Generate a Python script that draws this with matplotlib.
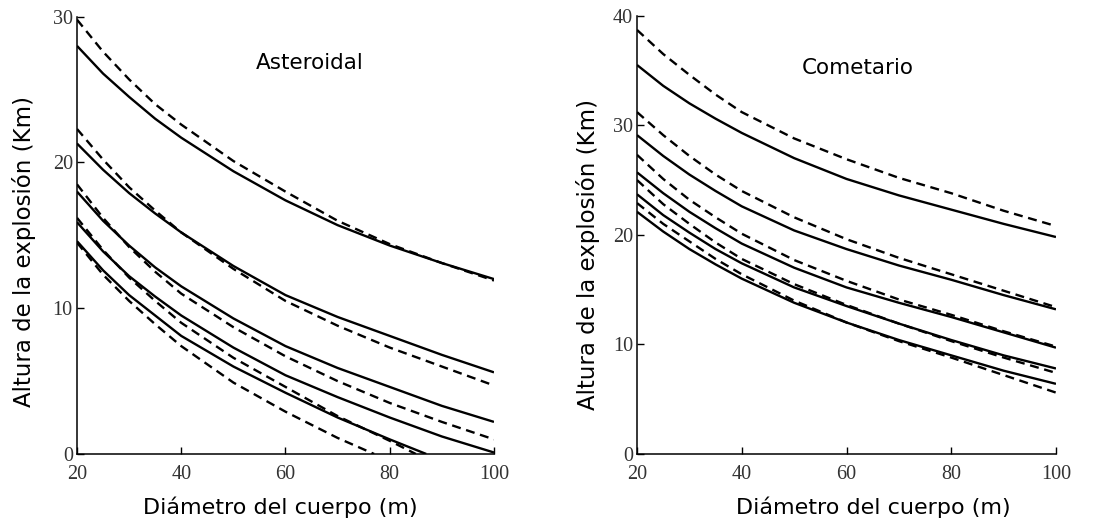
import matplotlib
matplotlib.use('Agg')
import matplotlib.pyplot as plt

# ------------------------------------------------------------
# Altura de explosion vs diametro del cuerpo (lecturas del grafico)
# ------------------------------------------------------------
X = [20, 25, 30, 35, 40, 50, 60, 70, 80, 90, 100]

# Asteroidal: pares (continua, discontinua)
ast_s1 = [28.0, 26.1, 24.5, 23.0, 21.7, 19.4, 17.4, 15.7, 14.3, 13.1, 12.0]
ast_d1 = [29.8, 27.6, 25.7, 24.0, 22.6, 20.1, 18.0, 16.0, 14.4, 13.1, 11.9]
ast_s2 = [21.3, 19.5, 17.9, 16.5, 15.2, 12.9, 10.9, 9.4, 8.1, 6.8, 5.6]
ast_d2 = [22.3, 20.2, 18.3, 16.7, 15.2, 12.7, 10.5, 8.8, 7.3, 6.0, 4.7]
ast_s3 = [18.0, 16.0, 14.3, 12.8, 11.5, 9.3, 7.4, 5.9, 4.6, 3.3, 2.2]
ast_d3 = [18.5, 16.2, 14.2, 12.5, 11.0, 8.7, 6.7, 5.0, 3.5, 2.2, 1.0]
ast_s4 = [15.9, 13.9, 12.2, 10.8, 9.5, 7.3, 5.4, 3.9, 2.5, 1.2, 0.1]
X_d4 = [20, 25, 30, 35, 40, 50, 60, 70, 80, 85]
ast_d4 = [16.2, 14.0, 12.1, 10.5, 9.0, 6.6, 4.6, 2.6, 0.9, 0.0]
X_s5 = [20, 25, 30, 35, 40, 50, 60, 70, 80, 87]
ast_s5 = [14.6, 12.6, 10.9, 9.5, 8.1, 6.0, 4.2, 2.5, 1.0, 0.0]
X_d5 = [20, 25, 30, 35, 40, 50, 60, 70, 77]
ast_d5 = [14.5, 12.3, 10.5, 8.9, 7.4, 4.9, 2.9, 1.1, 0.0]

# Cometario
com_s1 = [35.5, 33.6, 32.0, 30.6, 29.3, 27.0, 25.1, 23.6, 22.3, 21.0, 19.8]
com_d1 = [38.7, 36.5, 34.6, 32.8, 31.2, 28.8, 26.9, 25.2, 23.8, 22.2, 20.8]
com_s2 = [29.1, 27.2, 25.5, 24.0, 22.6, 20.4, 18.7, 17.2, 15.9, 14.5, 13.2]
com_d2 = [31.2, 29.1, 27.2, 25.5, 24.0, 21.6, 19.6, 17.9, 16.4, 14.9, 13.4]
com_s3 = [25.7, 23.8, 22.1, 20.6, 19.2, 17.0, 15.2, 13.8, 12.5, 11.1, 9.7]
com_d3 = [27.3, 25.1, 23.2, 21.6, 20.1, 17.7, 15.8, 14.1, 12.7, 11.2, 9.8]
com_s4 = [23.7, 21.8, 20.2, 18.7, 17.4, 15.2, 13.5, 11.9, 10.4, 9.0, 7.8]
com_d4 = [25.0, 22.8, 21.0, 19.3, 17.8, 15.5, 13.6, 11.9, 10.3, 8.8, 7.4]
com_s5 = [22.1, 20.3, 18.7, 17.3, 16.0, 13.8, 12.0, 10.4, 9.0, 7.6, 6.4]
com_d5 = [22.9, 21.0, 19.4, 17.8, 16.4, 14.0, 12.0, 10.3, 8.8, 7.2, 5.6]

XLABEL = 'Diámetro del cuerpo (m)'
YLABEL = 'Altura de la explosión (Km)'

LW = 1.7
DASH = (3.8, 2.4)

fig = plt.figure(figsize=(10.97, 5.23), dpi=100)
axL = fig.add_axes([0.0702, 0.132, 0.3801, 0.836])
axR = fig.add_axes([0.5807, 0.132, 0.3819, 0.838])

solidos_L = [(X, ast_s1), (X, ast_s2), (X, ast_s3), (X, ast_s4), (X_s5, ast_s5)]
discont_L = [(X, ast_d1), (X, ast_d2), (X, ast_d3), (X_d4, ast_d4), (X_d5, ast_d5)]
solidos_R = [(X, com_s1), (X, com_s2), (X, com_s3), (X, com_s4), (X, com_s5)]
discont_R = [(X, com_d1), (X, com_d2), (X, com_d3), (X, com_d4), (X, com_d5)]

def _panel(ax, solidos, discont, ymax, titulo, tpos, ypad, ylab_y, xlab_x):
    for xs, ys in solidos:
        ax.plot(xs, ys, color='black', linewidth=LW, solid_capstyle='butt')
    for xs, ys in discont:
        ax.plot(xs, ys, color='black', linewidth=LW, linestyle=(0, DASH))
    ax.set_xlim(20, 100)
    ax.set_ylim(0, ymax)
    ax.set_xticks([20, 40, 60, 80, 100])
    ax.set_yticks(range(0, ymax + 1, 10))
    for s in ['top', 'right']:
        ax.spines[s].set_visible(False)
    for s in ['left', 'bottom']:
        ax.spines[s].set_linewidth(1.1)
    ax.tick_params(direction='in', length=5, width=1.0)
    ax.tick_params(axis='x', pad=8)
    ax.tick_params(axis='y', pad=3)
    for lab in ax.get_xticklabels() + ax.get_yticklabels():
        lab.set_fontfamily('Liberation Serif')
        lab.set_fontsize(14.5)
        lab.set_color('#333333')
    ax.set_xlabel(XLABEL, fontsize=16, fontfamily='DejaVu Sans', labelpad=9)
    ax.set_ylabel(YLABEL, fontsize=16.5, fontfamily='DejaVu Sans', labelpad=ypad)
    ax.yaxis.label.set_y(ylab_y)
    ax.xaxis.label.set_x(xlab_x)
    ax.text(tpos[0], tpos[1], titulo, fontsize=15.5, ha='center', va='center',
            fontfamily='DejaVu Sans')
    for sp in ax.spines.values():
        sp.set_zorder(5)

_panel(axL, solidos_L, discont_L, 30, 'Asteroidal', (64.7, 26.8), 12, 0.462, 0.487)
_panel(axR, solidos_R, discont_R, 40, 'Cometario', (62.2, 35.2), 9.5, 0.454, 0.563)

fig.savefig('out.png', dpi=100, facecolor='white')
